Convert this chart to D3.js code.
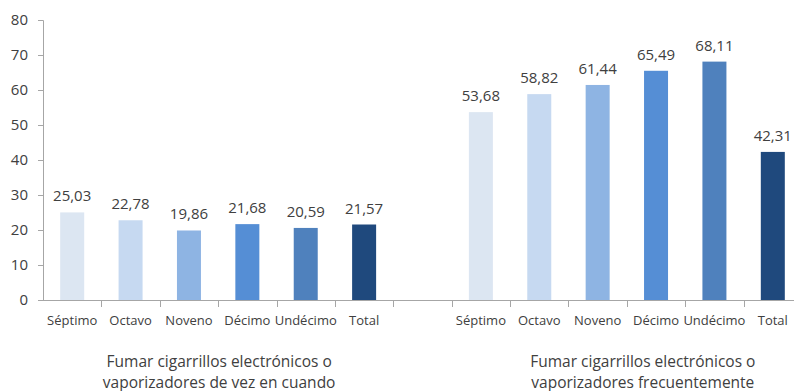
<!DOCTYPE html>
<html><head><meta charset="utf-8">
<script src="https://cdn.jsdelivr.net/npm/d3@7"></script>
<style>
html,body{margin:0;padding:0;background:#fff;}
svg{display:block;font-family:"Open Sans","Noto Sans",sans-serif;}
</style></head>
<body><svg id="c" width="794" height="391"></svg>
<script>
const grades = ["Séptimo","Octavo","Noveno","Décimo","Undécimo","Total"];
const groups = ["Fumar cigarrillos electrónicos o|vaporizadores de vez en cuando","Fumar cigarrillos electrónicos o|vaporizadores frecuentemente"];
const valuesOccasional = [25.03,22.78,19.86,21.68,20.59,21.57];
const valuesFrequent = [53.68,58.82,61.44,65.49,68.11,42.31];
const colors = ["#DCE6F2","#C6D9F1","#8EB4E3","#558ED5","#4F81BD","#1F497D"];
const yTicks = [0,10,20,30,40,50,60,70,80];

const svg = d3.select("#c");
const baseY = 300, topY = 20, left = 43, right = 802;
const keys = [];
grades.forEach((g,i)=>keys.push("A"+i));
keys.push("gap");
grades.forEach((g,i)=>keys.push("B"+i));
const x = d3.scaleBand().domain(keys).range([left,right]).padding(0);
const y = d3.scaleLinear().domain([0,80]).range([baseY,topY]);
const bw = 24;
const textCol = "#404040", axisCol = "#A6A6A6";

// y axis
const ya = svg.append("g").attr("transform",`translate(${left},0)`)
  .call(d3.axisLeft(y).tickValues(yTicks).tickSize(5).tickPadding(10));
ya.select(".domain").attr("stroke",axisCol);
ya.selectAll(".tick line").attr("stroke",axisCol);
ya.selectAll(".tick text").attr("fill",textCol).attr("font-size",15).attr("font-family","Open Sans, sans-serif");

// x axis line and ticks at band boundaries
svg.append("line").attr("x1",left).attr("x2",794).attr("y1",baseY+0.5).attr("y2",baseY+0.5).attr("stroke",axisCol);
keys.forEach(k=>{
  const xb = Math.round(x(k)+x.bandwidth())+0.5;
  svg.append("line").attr("x1",xb).attr("x2",xb).attr("y1",baseY).attr("y2",baseY+7).attr("stroke",axisCol);
});

function drawGroup(prefix, vals){
  vals.forEach((v,i)=>{
    const k = prefix+i;
    const cx = x(k)+x.bandwidth()/2;
    svg.append("rect").attr("x",cx-bw/2).attr("width",bw)
      .attr("y",y(v)).attr("height",baseY-y(v)).attr("fill",colors[i]);
    svg.append("text").attr("x",cx).attr("y",y(v)-11).attr("text-anchor","middle")
      .attr("fill",textCol).attr("font-size",15).text(v.toFixed(2).replace(".",","));
    svg.append("text").attr("x",cx).attr("y",325).attr("text-anchor","middle")
      .attr("fill",textCol).attr("font-size",13).text(grades[i]);
  });
}
drawGroup("A",valuesOccasional);
drawGroup("B",valuesFrequent);

// group labels
const gx = [ (x("A0")+x("A5")+x.bandwidth())/2 + 1, (x("B0")+x("B5")+x.bandwidth())/2 + 16 ];
groups.forEach((g,gi)=>{
  const lines = g.split("|");
  lines.forEach((l,li)=>{
    svg.append("text").attr("x",gx[gi]).attr("y",367+li*21).attr("text-anchor","middle")
      .attr("fill",textCol).attr("font-size",15.5).text(l);
  });
});
</script></body></html>
